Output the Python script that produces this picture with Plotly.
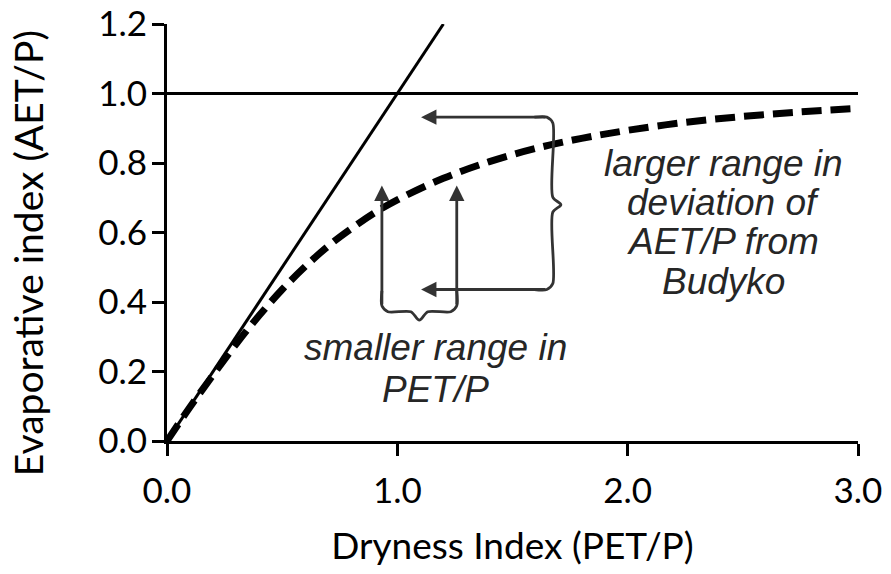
import plotly.graph_objects as go

# Budyko curve: evaporative index (AET/P) against dryness index (PET/P)
dryness = [0.0, 0.1, 0.2, 0.3, 0.4, 0.5, 0.6, 0.7, 0.8, 0.9, 1.0,
           1.2, 1.4, 1.6, 1.8, 2.0, 2.25, 2.5, 2.75, 3.0]
evap_index = [0.0, 0.098, 0.190, 0.279, 0.361, 0.436, 0.502, 0.561, 0.611, 0.656, 0.694,
              0.756, 0.804, 0.842, 0.871, 0.894, 0.917, 0.934, 0.947, 0.957]

# energy limit (AET = PET) and water limit (AET = P)
energy_x = [0.0, 1.2]
energy_y = [0.0, 1.2]
water_x = [0.0, 3.0]
water_y = [1.0, 1.0]

x_ticks = [0.0, 1.0, 2.0, 3.0]
x_ticktext = ["0.0", "1.0", "2.0", "3.0"]
y_ticks = [0.0, 0.2, 0.4, 0.6, 0.8, 1.0, 1.2]
y_ticktext = ["0.0", "0.2", "0.4", "0.6", "0.8", "1.0", "1.2"]

# spread of PET/P (bottom brace) and of AET/P deviation (right brace)
pet_span = [0.933, 1.258]
pet_brace_y = 0.372
pet_arrow_tip_y = 0.735
aet_span = [0.436, 0.932]
aet_brace_x = 1.675
aet_arrow_tip_x = 1.103
aet_brace_mid = 0.680

right_label = ["larger range in", "deviation of", "AET/P from", "Budyko"]
right_label_x = 2.414
right_label_y = [0.800, 0.686, 0.573, 0.458]
bottom_label = ["smaller range in", "PET/P"]
bottom_label_x = 1.164
bottom_label_y = [0.269, 0.149]

ANNOT_COLOR = "#333333"
TEXT_COLOR = "#262626"
AXIS_FONT = "Lato"

fig = go.Figure()

fig.add_trace(go.Scatter(x=energy_x, y=energy_y, mode="lines",
                         line=dict(color="black", width=3), hoverinfo="skip"))
fig.add_trace(go.Scatter(x=water_x, y=water_y, mode="lines",
                         line=dict(color="black", width=3), hoverinfo="skip"))
fig.add_trace(go.Scatter(x=dryness, y=evap_index, mode="lines",
                         line=dict(color="black", width=7, dash="20px,9px", shape="spline"),
                         hoverinfo="skip"))

# bottom brace joining the two vertical arrows
xl, xr = pet_span
xm = (xl + xr) / 2
cdx, cdy = 0.026, 0.017
dip_dx, dip_dy = 0.037, 0.024
fig.add_trace(go.Scatter(
    x=[xl, xl, xl + cdx, xm - dip_dx, xm, xm + dip_dx, xr - cdx, xr, xr],
    y=[pet_brace_y + 0.06, pet_brace_y + cdy, pet_brace_y, pet_brace_y,
       pet_brace_y - dip_dy, pet_brace_y, pet_brace_y, pet_brace_y + cdy, pet_brace_y + 0.06],
    mode="lines", line=dict(color=ANNOT_COLOR, width=2.8, shape="spline", smoothing=0.8),
    hoverinfo="skip"))

# right brace joining the two horizontal arrows
yb, yt = aet_span
bulge_dx, bulge_dy = 0.035, 0.0215
fig.add_trace(go.Scatter(
    x=[aet_brace_x - 0.08, aet_brace_x - cdx, aet_brace_x, aet_brace_x,
       aet_brace_x + bulge_dx, aet_brace_x, aet_brace_x, aet_brace_x - cdx, aet_brace_x - 0.08],
    y=[yt, yt, yt - cdy, aet_brace_mid + bulge_dy, aet_brace_mid,
       aet_brace_mid - bulge_dy, yb + cdy, yb, yb],
    mode="lines", line=dict(color=ANNOT_COLOR, width=2.8, shape="spline", smoothing=0.8),
    hoverinfo="skip"))

arrow_style = dict(showarrow=True, arrowhead=2, arrowsize=1.1, arrowwidth=2.8,
                   arrowcolor=ANNOT_COLOR, axref="x", ayref="y", text="", standoff=0)
for xv in pet_span:
    fig.add_annotation(x=xv, y=pet_arrow_tip_y, ax=xv, ay=pet_brace_y + cdy, **arrow_style)
for yv in aet_span:
    fig.add_annotation(x=aet_arrow_tip_x, y=yv, ax=aet_brace_x - cdx, ay=yv, **arrow_style)

label_font = dict(family="Liberation Sans", size=37, color=TEXT_COLOR, style="italic")
for txt, yv in zip(right_label, right_label_y):
    fig.add_annotation(x=right_label_x, y=yv, text=txt, showarrow=False,
                       xanchor="center", yanchor="middle", font=label_font)
for txt, yv in zip(bottom_label, bottom_label_y):
    fig.add_annotation(x=bottom_label_x, y=yv, text=txt, showarrow=False,
                       xanchor="center", yanchor="middle", font=label_font)

# y-axis title placed as rotated text left of the tick labels
fig.add_annotation(xref="paper", yref="paper", x=-0.2, y=0.45,
                   text="Evaporative index (AET/P)", textangle=-90, showarrow=False,
                   xanchor="center", yanchor="middle",
                   font=dict(family=AXIS_FONT, size=39, color="black"))

axis_common = dict(showline=True, linecolor="black", linewidth=3, ticks="outside",
                   ticklen=12, tickwidth=3, tickcolor="black", showgrid=False,
                   zeroline=False, ticklabeloverflow="allow", automargin=False,
                   tickfont=dict(family=AXIS_FONT, size=35, color="black"))

fig.update_layout(
    width=891, height=574,
    margin=dict(l=167, r=33, t=24, b=133, autoexpand=False),
    paper_bgcolor="white", plot_bgcolor="white",
    showlegend=False,
    xaxis=dict(range=[0, 3.0], tickvals=x_ticks, ticktext=x_ticktext,
               ticklabelstandoff=5,
               title=dict(text="Dryness Index (PET/P)", standoff=25,
                          font=dict(family=AXIS_FONT, size=37, color="black")),
               **axis_common),
    yaxis=dict(range=[0, 1.2], tickvals=y_ticks, ticktext=y_ticktext,
               ticklabelstandoff=-2, **axis_common),
)

fig.write_html("out.html")
